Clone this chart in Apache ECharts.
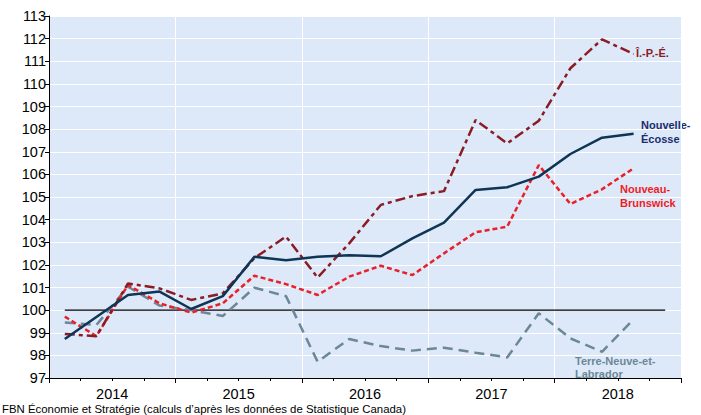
<!DOCTYPE html>
<html>
<head>
<meta charset="utf-8">
<script src="https://cdn.jsdelivr.net/npm/echarts@6/dist/echarts.min.js"></script>
<style>
html,body{margin:0;padding:0;background:#fff;}
#chart{width:701px;height:415px;}
</style>
</head>
<body>
<div id="chart"></div>
<script>
// Quarterly index values, 2014 Q1 .. 2018 Q3
const years = ['2014', '2015', '2016', '2017', '2018'];
const quarterCount = 20;
const ipe = [98.95, 98.85, 101.18, 100.96, 100.45, 100.74, 102.3, 103.25, 101.44, 102.95, 104.65, 105.04, 105.26, 108.4, 107.37, 108.37, 110.69, 111.97, 111.32];
const nouvelleEcosse = [98.72, 99.7, 100.67, 100.82, 100.05, 100.62, 102.36, 102.2, 102.36, 102.43, 102.38, 103.17, 103.87, 105.31, 105.43, 105.9, 106.9, 107.62, 107.8];
const nouveauBrunswick = [99.71, 98.85, 101.11, 100.3, 99.89, 100.3, 101.52, 101.15, 100.67, 101.48, 101.96, 101.55, 102.51, 103.44, 103.69, 106.41, 104.69, 105.34, 106.27];
const terreNeuve = [99.45, 99.34, 101.04, 100.2, 100.0, 99.74, 100.99, 100.62, 97.72, 98.72, 98.41, 98.21, 98.34, 98.12, 97.91, 99.86, 98.75, 98.16, 99.59];
const baseline = [100, 100];
const baselineQuarters = [0, 19];

const toPts = arr => arr.map((v, i) => [i + 0.5, v]);
const font = '"Liberation Sans", Arial, sans-serif';

const chart = echarts.init(document.getElementById('chart'), null, {renderer: 'svg'});
chart.setOption({
  animation: false,
  backgroundColor: '#ffffff',
  grid: {left: 49, right: 20, top: 16, bottom: 37, containLabel: false, show: true, backgroundColor: '#dde9f9', borderWidth: 0},
  xAxis: [{
    type: 'value', min: 0, max: quarterCount, interval: 1,
    axisLine: {show: true, lineStyle: {color: '#000', width: 1}},
    axisTick: {show: true, length: 3, lineStyle: {color: '#000'}},
    axisLabel: {show: true, margin: 8, color: '#000', fontSize: 14.5, fontFamily: font,
      formatter: v => (Math.round(v) % 4 === 2 ? years[(Math.round(v) - 2) / 4] : '')},
    splitLine: {show: false}
  }, {
    type: 'value', min: 0, max: quarterCount, interval: 4, position: 'bottom',
    axisLine: {show: false},
    axisTick: {show: true, length: 5, lineStyle: {color: '#000'}},
    axisLabel: {show: false},
    splitLine: {show: true, lineStyle: {color: '#ffffff', width: 1}}
  }],
  yAxis: {
    type: 'value', min: 97, max: 113, interval: 1,
    axisLine: {show: true, lineStyle: {color: '#000', width: 1}},
    axisTick: {show: true, length: 4, lineStyle: {color: '#000'}},
    axisLabel: {color: '#000', fontSize: 14.5, fontFamily: font, margin: 3},
    splitLine: {show: true, lineStyle: {color: '#ffffff', width: 1}}
  },
  series: [
    {type: 'line', name: 'base', data: baselineQuarters.map((q, i) => [q + 0.5, baseline[i]]), symbol: 'none',
      lineStyle: {color: '#000', width: 1.2}, z: 1, silent: true},
    {type: 'line', name: 'Terre-Neuve-et-Labrador', data: toPts(terreNeuve), symbol: 'none',
      lineStyle: {color: '#6c8796', width: 2.5, type: [10, 6]}, z: 2},
    {type: 'line', name: 'Nouveau-Brunswick', data: toPts(nouveauBrunswick), symbol: 'none',
      lineStyle: {color: '#e8202a', width: 2.5, type: [5, 3]}, z: 3},
    {type: 'line', name: 'Î.-P.-É.', data: toPts(ipe), symbol: 'none',
      lineStyle: {color: '#8b1c24', width: 2.5, type: [10, 4, 4, 4]}, z: 4},
    {type: 'line', name: 'Nouvelle-Écosse', data: toPts(nouvelleEcosse), symbol: 'none',
      lineStyle: {color: '#0e3553', width: 2.5}, z: 5}
  ],
  graphic: [
    {type: 'text', left: 636, top: 47, style: {text: 'Î.-P.-É.', fill: '#8b1c24', font: 'bold 11px ' + font}},
    {type: 'text', left: 641, top: 118, style: {text: 'Nouvelle-\nÉcosse', fill: '#1b2d6b', font: 'bold 11px ' + font, lineHeight: 14}},
    {type: 'text', left: 620, top: 182, style: {text: 'Nouveau-\nBrunswick', fill: '#ee1c25', font: 'bold 11px ' + font, lineHeight: 14, align: 'center', x: 27}},
    {type: 'text', left: 575, top: 354, style: {text: 'Terre-Neuve-et-\nLabrador', fill: '#6c8796', font: 'bold 11px ' + font, lineHeight: 13}},
    {type: 'text', left: 2, top: 403, style: {text: 'FBN Économie et Stratégie (calculs d\u2019après les données de Statistique Canada)', fill: '#000', font: '11.4px ' + font}}
  ]
});
</script>
</body>
</html>
